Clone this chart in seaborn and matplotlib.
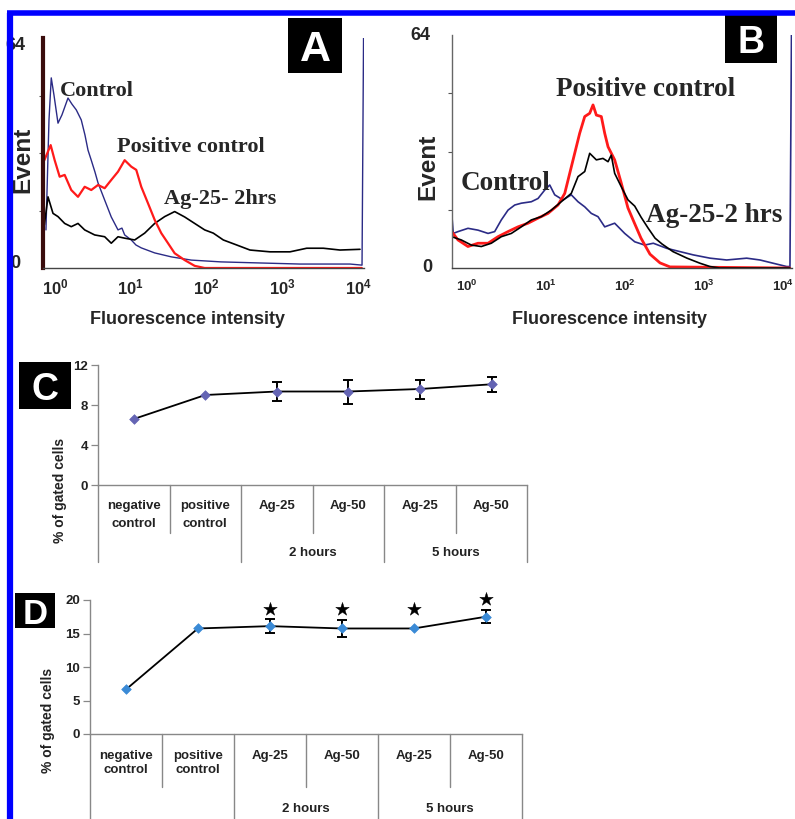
import numpy as np
import pandas as pd
import matplotlib
matplotlib.use("Agg")
import matplotlib.pyplot as plt
import matplotlib.transforms as mtransforms
from matplotlib.lines import Line2D
from matplotlib.patches import Rectangle
from matplotlib.ticker import LogLocator, NullFormatter
import seaborn as sns

sns.set_style("white")
plt.rcParams["font.family"] = ["Liberation Sans", "DejaVu Sans"]
plt.rcParams["mathtext.fontset"] = "custom"
plt.rcParams["mathtext.rm"] = "Liberation Sans:bold"
plt.rcParams["mathtext.bf"] = "Liberation Sans:bold"
plt.rcParams["mathtext.it"] = "Liberation Sans:bold"

# ---------------- data: panel A (log10 fluorescence intensity, events) ----------------
a_ctrl_log = [-0.119, -0.079, -0.049, -0.013, 0.040, 0.092, 0.172, 0.224, 0.281, 0.347, 0.396,
              0.436, 0.479, 0.528, 0.568, 0.656, 0.743, 0.832, 0.884, 0.920, 1.007, 1.069,
              1.139, 1.316, 1.535, 1.799, 2.191, 2.706, 3.234, 3.894, 4.053, 4.073]
a_ctrl_evt = [10.6, 41.2, 52.9, 48.1, 40.3, 42.6, 47.3, 45.6, 44.0, 41.2, 37.0,
              32.8, 30.0, 26.7, 23.7, 18.9, 14.2, 10.6, 11.1, 9.2, 7.8, 6.4,
              5.6, 4.2, 3.1, 2.2, 1.7, 1.4, 1.1, 1.1, 0.8, 64]
a_pos_log = [-0.14, -0.057, -0.004, 0.062, 0.128, 0.215, 0.304, 0.392, 0.479, 0.568, 0.656,
             0.743, 0.832, 0.920, 1.007, 1.073, 1.139, 1.228, 1.316, 1.403, 1.492, 1.580,
             1.712, 1.844, 1.976, 4.050]
a_pos_evt = [30.0, 34.2, 30.0, 25.4, 25.9, 21.7, 19.8, 22.6, 21.7, 23.1, 22.2,
             24.5, 26.8, 30.0, 28.2, 27.3, 22.6, 18.0, 13.4, 9.7, 6.9, 4.1,
             2.2, 0.6, 0.0, 0.0]
a_ag_log = [-0.14, -0.092, -0.026, 0.040, 0.128, 0.215, 0.304, 0.392, 0.524, 0.656, 0.743,
            0.832, 0.920, 1.052, 1.184, 1.316, 1.448, 1.580, 1.712, 1.844, 1.976, 2.090,
            2.222, 2.399, 2.574, 2.838, 3.102, 3.323, 3.542, 3.762, 4.026]
a_ag_evt = [12.0, 19.8, 15.2, 14.3, 12.4, 11.5, 12.4, 10.6, 9.2, 8.7, 6.9,
            8.7, 8.3, 7.8, 9.7, 12.4, 14.3, 15.7, 14.2, 12.4, 10.6, 9.7,
            7.8, 6.4, 5.0, 4.5, 4.5, 5.5, 5.5, 5.0, 5.2]

# ---------------- data: panel B ----------------
b_ctrl_log = [-0.19, -0.17, -0.110, 0.016, 0.143, 0.270, 0.354, 0.438, 0.523, 0.608, 0.691,
              0.818, 0.903, 0.987, 1.051, 1.114, 1.219, 1.324, 1.409, 1.494, 1.577, 1.662,
              1.747, 1.873, 2.0, 2.127, 2.253, 2.362, 2.532, 2.700, 2.868, 3.080, 3.291,
              3.544, 3.713, 3.881, 4.051, 4.092, 4.111]
b_ctrl_evt = [15.0, 9.5, 10.0, 10.9, 10.4, 9.5, 10.0, 13.2, 15.9, 17.3, 17.8,
              18.2, 19.1, 21.4, 22.8, 20.1, 18.7, 20.1, 18.2, 16.8, 15.0, 14.1,
              11.3, 12.3, 9.5, 7.2, 6.3, 6.8, 5.4, 4.5, 3.6, 2.7, 2.2,
              2.7, 2.2, 1.3, 0.4, 0.4, 64]
b_pos_log = [-0.19, -0.110, 0.016, 0.143, 0.270, 0.396, 0.523, 0.649, 0.776, 0.903, 1.029,
             1.156, 1.241, 1.304, 1.367, 1.430, 1.494, 1.557, 1.599, 1.641, 1.704, 1.747,
             1.789, 1.873, 1.953, 2.041, 2.118, 2.206, 2.320, 2.447, 2.573, 4.09]
b_pos_evt = [10.0, 7.7, 5.9, 6.8, 6.8, 8.6, 10.0, 11.3, 12.3, 13.7, 15.0,
             17.3, 20.5, 26.0, 31.5, 37.0, 41.6, 42.5, 44.8, 42.0, 41.6, 37.0,
             33.3, 29.7, 23.6, 16.5, 12.6, 8.2, 3.8, 1.4, 0.3, 0.0]
b_ag_log = [-0.19, -0.068, 0.058, 0.185, 0.311, 0.438, 0.565, 0.691, 0.818, 0.944, 1.071,
            1.197, 1.324, 1.409, 1.494, 1.557, 1.641, 1.725, 1.789, 1.830, 1.873, 1.957,
            2.042, 2.127, 2.206, 2.295, 2.384, 2.472, 2.611, 2.789, 2.954, 3.080, 3.206, 4.09]
b_ag_evt = [8.6, 7.7, 6.3, 5.9, 6.8, 8.6, 9.5, 11.3, 13.2, 14.1, 15.9,
            18.2, 20.5, 25.1, 26.5, 31.5, 29.7, 30.1, 29.2, 31.0, 26.0, 22.3,
            18.7, 17.0, 14.0, 11.0, 8.2, 6.6, 4.5, 2.7, 1.3, 0.4, 0.0, 0.0]

hist_ticks = [1, 10, 100, 1000, 10000]
hist_tick_labels = [r"$10^{0}$", r"$10^{1}$", r"$10^{2}$", r"$10^{3}$", r"$10^{4}$"]

# ---------------- data: panels C and D ----------------
cat_keys = ["neg", "pos", "ag25_2h", "ag50_2h", "ag25_5h", "ag50_5h"]
cat_line1 = ["negative", "positive", "Ag-25", "Ag-50", "Ag-25", "Ag-50"]
cat_line2 = ["control", "control", "", "", "", ""]
group_labels = ["2 hours", "5 hours"]
group_members = [(2, 3), (4, 5)]

c_values = [6.6, 9.0, 9.35, 9.35, 9.6, 10.07]
c_err = [0.0, 0.0, 0.97, 1.2, 0.95, 0.78]
c_ticks = [0, 4, 8, 12]

d_values = [6.65, 15.75, 16.1, 15.75, 15.75, 17.5]
d_err = [0.0, 0.0, 1.0, 1.2, 0.0, 1.0]
d_star = [np.nan, np.nan, 18.7, 18.7, 18.6, 20.2]
d_ticks = [0, 5, 10, 15, 20]

# ---------------- layout helpers ----------------
W, H = 795, 819
fig = plt.figure(figsize=(W / 100, H / 100), dpi=100)


def rect(l, r, top, bot):
    return [l / W, 1 - bot / H, (r - l) / W, (bot - top) / H]


def ftext(x, y, s, **kw):
    fig.text(x / W, 1 - y / H, s, **kw)


def label_box(x0, x1, y0, y1, letter, fs):
    fig.add_artist(Rectangle((x0 / W, 1 - y1 / H), (x1 - x0) / W, (y1 - y0) / H,
                             transform=fig.transFigure, facecolor="black",
                             edgecolor="none", zorder=5))
    fig.text((x0 + x1) / 2 / W, 1 - (y0 + y1) / 2 / H, letter, color="white",
             fontsize=fs, fontweight="bold", ha="center", va="center_baseline", zorder=6)


BLUE = "#2b2b86"
RED = "#ff1a1a"


def histogram(ax, series, xlim, tick_fs, tick_pad):
    for logs, evts, col, lw in series:
        sns.lineplot(x=10 ** np.array(logs), y=evts, ax=ax, color=col, lw=lw,
                     estimator=None, sort=False)
    ax.set_xscale("log")
    ax.set_xlim(10 ** xlim[0], 10 ** xlim[1])
    ax.set_ylim(0, 64)
    ax.set_xticks(hist_ticks, labels=hist_tick_labels)
    ax.xaxis.set_minor_locator(LogLocator(base=10, subs=np.arange(2, 10)))
    ax.xaxis.set_minor_formatter(NullFormatter())
    ax.set_yticks([16, 32, 48], labels=[])
    ax.tick_params(axis="x", which="major", length=3, width=0.8, color="#555",
                   labelsize=tick_fs, pad=tick_pad, direction="in")
    ax.tick_params(axis="x", which="minor", length=2, width=0.6, color="#777", direction="in")
    ax.tick_params(axis="y", length=3, width=0.8, color="#555", direction="out", left=True)
    ax.set_xlabel("")
    ax.set_ylabel("")
    for s in ["top", "right"]:
        ax.spines[s].set_visible(False)
    ax.spines["bottom"].set_color("#444")
    ax.spines["bottom"].set_linewidth(1.0)
    ax.set_facecolor("none")


# ---------------- panel A ----------------
axA = fig.add_axes(rect(43, 364, 38, 268))
histogram(axA, [(a_ctrl_log, a_ctrl_evt, BLUE, 1.0),
                (a_ag_log, a_ag_evt, "black", 1.2),
                (a_pos_log, a_pos_evt, RED, 1.6)],
          (-0.158, 4.079), 12, 7)
axA.spines["left"].set_color("#3a0c0c")
axA.spines["left"].set_linewidth(3.0)
ftext(187, 320, "Fluorescence intensity", fontsize=13, fontweight="bold", ha="center", va="center")
ftext(23, 160, "Event", fontsize=17.5, fontweight="bold", rotation=90, ha="center", va="center")
ftext(25, 45, "64", fontsize=13, fontweight="bold", ha="right", va="center", zorder=1)
ftext(20, 263, "0", fontsize=13, fontweight="bold", ha="right", va="center")
ser = dict(family=["Liberation Serif", "DejaVu Serif"], fontweight="bold", ha="center", va="center")
ftext(97, 91, "Control", fontsize=16, **ser)
ftext(191, 147, "Positive control", fontsize=16, **ser)
ftext(220, 199, "Ag-25- 2hrs", fontsize=16, **ser)
label_box(288, 342, 18, 73, "A", 31)

# ---------------- panel B ----------------
axB = fig.add_axes(rect(451.7, 791.7, 35, 268))
histogram(axB, [(b_ctrl_log, b_ctrl_evt, BLUE, 1.2),
                (b_pos_log, b_pos_evt, RED, 2.0),
                (b_ag_log, b_ag_evt, "black", 1.2)],
          (-0.19, 4.114), 9.5, 8)
axB.spines["left"].set_color("#666")
axB.spines["left"].set_linewidth(1.0)
ftext(609, 320, "Fluorescence intensity", fontsize=13, fontweight="bold", ha="center", va="center")
ftext(428, 167, "Event", fontsize=17.5, fontweight="bold", rotation=90, ha="center", va="center")
ftext(430, 35, "64", fontsize=13, fontweight="bold", ha="right", va="center")
ftext(432, 268, "0", fontsize=13, fontweight="bold", ha="right", va="center")
ftext(646, 90, "Positive control", fontsize=19.5, **ser)
ftext(506, 184, "Control", fontsize=19.5, **ser)
ftext(714, 216, "Ag-25-2 hrs", fontsize=19.5, **ser)
label_box(725, 777, 15, 63, "B", 27)


# ---------------- panels C and D ----------------
def line_panel(ax, values, errs, ticks, ymax, h_px, mcolor, short_px, long_px,
               r1_px, r2_px, g_px, stars=None):
    df = pd.DataFrame({"key": cat_keys, "value": values, "err": errs})
    sns.lineplot(data=df, x="key", y="value", ax=ax, color="black", lw=1.3,
                 estimator=None, sort=False, zorder=2)
    xpos = np.arange(len(cat_keys))
    has = df["err"] > 0
    ax.errorbar(xpos[has], df["value"][has], yerr=df["err"][has], fmt="none",
                ecolor="black", elinewidth=1.4, capsize=3.5, capthick=1.4, zorder=3)
    sns.scatterplot(data=df, x="key", y="value", ax=ax, color=mcolor, marker="D",
                    s=24, edgecolor=mcolor, linewidth=0.5, zorder=4)
    if stars is not None:
        sdf = pd.DataFrame({"key": cat_keys, "star": stars}).dropna()
        sns.scatterplot(data=sdf, x="key", y="star", ax=ax, color="black", marker="*",
                        s=105, edgecolor="black", linewidth=0.3, zorder=5, clip_on=False)
    ax.set_xlim(-0.5, len(cat_keys) - 0.5)
    ax.set_ylim(0, ymax)
    ax.set_xticks([])
    ax.set_yticks(ticks, labels=[str(t) for t in ticks], fontsize=9.5, fontweight="bold",
                  color="#222")
    ax.tick_params(axis="y", length=5, width=0.9, color="#888", direction="out", left=True, pad=2)
    ax.set_xlabel("")
    ax.set_ylabel("")
    for s in ["top", "right"]:
        ax.spines[s].set_visible(False)
    for s in ["left", "bottom"]:
        ax.spines[s].set_color("#888")
        ax.spines[s].set_linewidth(1.0)
    ax.set_facecolor("none")

    trans = mtransforms.blended_transform_factory(ax.transData, ax.transAxes)
    f = lambda px: -px / h_px
    long_bounds = {0, 2, 4, 6}
    for i in range(len(cat_keys) + 1):
        L = long_px if i in long_bounds else short_px
        ax.add_line(Line2D([i - 0.5, i - 0.5], [0, f(L)], transform=trans, color="#888",
                           lw=1.0, clip_on=False))
    for i, (t1, t2) in enumerate(zip(cat_line1, cat_line2)):
        ax.text(i, f(r1_px), t1, transform=trans, ha="center", va="center",
                fontsize=9.5, fontweight="bold", color="#222")
        if t2:
            ax.text(i, f(r2_px), t2, transform=trans, ha="center", va="center",
                    fontsize=9.5, fontweight="bold", color="#222")
    for lab, (a, b) in zip(group_labels, group_members):
        ax.text((a + b) / 2, f(g_px), lab, transform=trans, ha="center", va="center",
                fontsize=9.5, fontweight="bold", color="#222")


axC = fig.add_axes(rect(98, 527.3, 365, 485))
line_panel(axC, c_values, c_err, c_ticks, 12, 120, "#6464b4", 47.7, 76.7, 21, 39, 67.7)
ftext(60, 490, "% of gated cells", fontsize=10, fontweight="bold", rotation=90,
      ha="center", va="center", color="#222")
label_box(19, 71, 362, 409, "C", 27)

axD = fig.add_axes(rect(90, 521.7, 600, 734))
line_panel(axD, d_values, d_err, d_ticks, 20, 134, "#3a8ad6", 52.7, 120, 21.7, 36, 75,
           stars=d_star)
ftext(48, 720, "% of gated cells", fontsize=10, fontweight="bold", rotation=90,
      ha="center", va="center", color="#222")
label_box(15, 55, 593, 628, "D", 25)

# ---------------- blue frame ----------------
fig.add_artist(Line2D([10 / W, 10 / W], [0, 1 - 12.5 / H], transform=fig.transFigure,
                      color="#0000ff", lw=4.5, zorder=10, solid_capstyle="butt"))
fig.add_artist(Line2D([7 / W, 1], [1 - 12.5 / H, 1 - 12.5 / H], transform=fig.transFigure,
                      color="#0000ff", lw=4.0, zorder=10, solid_capstyle="butt"))

fig.savefig("out.png", dpi=100, facecolor="white")
